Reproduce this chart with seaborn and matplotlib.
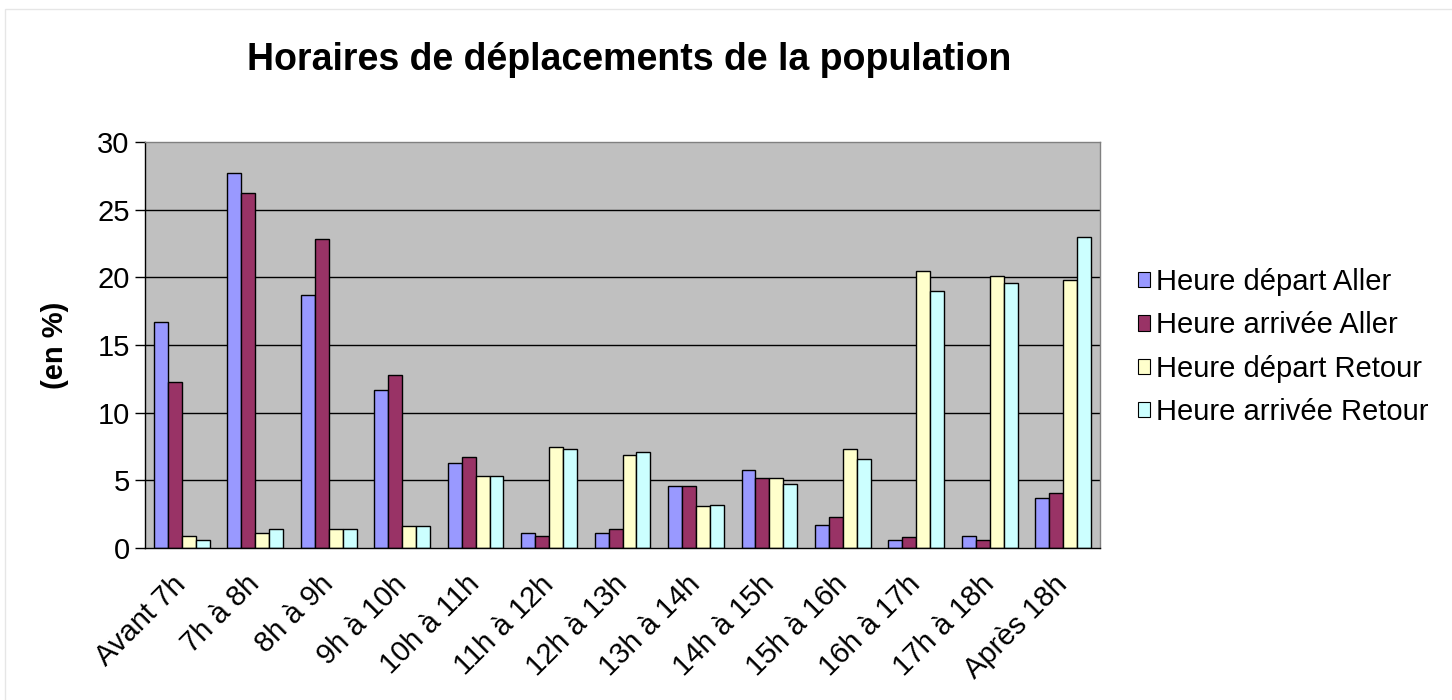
import matplotlib
matplotlib.use("Agg")
import matplotlib.pyplot as plt
import matplotlib.patches as mpatches
import matplotlib.transforms as mtransforms
import seaborn as sns
import pandas as pd

categories = ["Avant 7h", "7h à 8h", "8h à 9h", "9h à 10h", "10h à 11h", "11h à 12h",
              "12h à 13h", "13h à 14h", "14h à 15h", "15h à 16h", "16h à 17h",
              "17h à 18h", "Après 18h"]
series_names = ["Heure départ Aller", "Heure arrivée Aller",
                "Heure départ Retour", "Heure arrivée Retour"]
depart_aller = [16.7, 27.7, 18.7, 11.7, 6.3, 1.1, 1.1, 4.6, 5.8, 1.7, 0.6, 0.9, 3.7]
arrivee_aller = [12.3, 26.2, 22.8, 12.8, 6.7, 0.9, 1.4, 4.6, 5.2, 2.3, 0.8, 0.6, 4.1]
depart_retour = [0.9, 1.1, 1.4, 1.6, 5.3, 7.5, 6.9, 3.1, 5.2, 7.3, 20.5, 20.1, 19.8]
arrivee_retour = [0.6, 1.4, 1.4, 1.6, 5.3, 7.3, 7.1, 3.2, 4.7, 6.6, 19.0, 19.6, 23.0]
y_ticks = [0, 5, 10, 15, 20, 25, 30]

colors = ["#9999FF", "#993366", "#FFFFCC", "#CCFFFF"]

rows = []
for name, vals in zip(series_names, [depart_aller, arrivee_aller, depart_retour, arrivee_retour]):
    for c, v in zip(categories, vals):
        rows.append({"cat": c, "val": v, "serie": name})
df = pd.DataFrame(rows)

sns.set_theme(style="white")
plt.rcParams["font.family"] = ["Liberation Sans", "DejaVu Sans"]
plt.rcParams["text.color"] = "black"
plt.rcParams["axes.labelcolor"] = "black"
plt.rcParams["xtick.color"] = "black"
plt.rcParams["ytick.color"] = "black"

W, H = 1452, 700
fig = plt.figure(figsize=(W / 100, H / 100), dpi=100)
fig.patch.set_facecolor("white")
ax = fig.add_axes([145 / W, 1 - 548 / H, (1100 - 145) / W, (548 - 142) / H])
ax.set_facecolor("#C0C0C0")

sns.barplot(data=df, x="cat", y="val", hue="serie", order=categories,
            hue_order=series_names, palette=colors, width=0.76,
            edgecolor="black", linewidth=1.0, saturation=1, ax=ax, legend=False)

ax.set_xlim(-0.5, len(categories) - 0.5)
ax.set_ylim(0, 30)
ax.set_yticks(y_ticks)
ax.set_yticklabels([str(t) for t in y_ticks], fontsize=21)
for t in y_ticks[1:-1]:
    ax.axhline(t, color="black", linewidth=1.0, zorder=0.5)
ax.set_axisbelow(True)

ax.set_xticks(range(len(categories)))
ax.set_xticklabels(categories, rotation=45, ha="right", va="center",
                   rotation_mode="anchor", fontsize=21)
offset = mtransforms.ScaledTranslation(-6 / 100, 0, fig.dpi_scale_trans)
for lbl in ax.get_xticklabels():
    lbl.set_transform(lbl.get_transform() + offset)
ax.set_xticks([i - 0.5 for i in range(len(categories) + 1)], minor=True)
ax.tick_params(axis="x", which="major", length=0, pad=23)
ax.tick_params(axis="x", which="minor", length=7, width=1, color="black", direction="out")
ax.tick_params(axis="y", which="major", length=7, width=1, color="black", direction="out", pad=4)
ax.tick_params(left=True, bottom=True)

for side in ["left", "bottom"]:
    ax.spines[side].set_color("black")
    ax.spines[side].set_linewidth(1.0)
for side in ["top", "right"]:
    ax.spines[side].set_color("#808080")
    ax.spines[side].set_linewidth(1.0)

ax.set_xlabel("")
ax.set_ylabel("(en %)", fontsize=21, fontweight="bold", labelpad=20)

fig.text(629 / W, 1 - 60 / H, "Horaires de déplacements de la population",
         ha="center", va="center", fontsize=27, fontweight="bold")

handles = [mpatches.Patch(facecolor=c, edgecolor="black", linewidth=0.8) for c in colors]
fig.legend(handles, series_names, loc="center left",
           bbox_to_anchor=(1138 / W, 1 - 347 / H), frameon=False, fontsize=21,
           handlelength=0.42, handleheight=0.42, handletextpad=0.2,
           labelspacing=0.52, borderaxespad=0, borderpad=0)

fig.patches.append(mpatches.Rectangle((5 / W, -0.1), 1.2, 1 - 9 / H + 0.1,
                                      transform=fig.transFigure, fill=False,
                                      edgecolor="#e6e6e6", linewidth=1))

fig.savefig("out.png", dpi=100)
